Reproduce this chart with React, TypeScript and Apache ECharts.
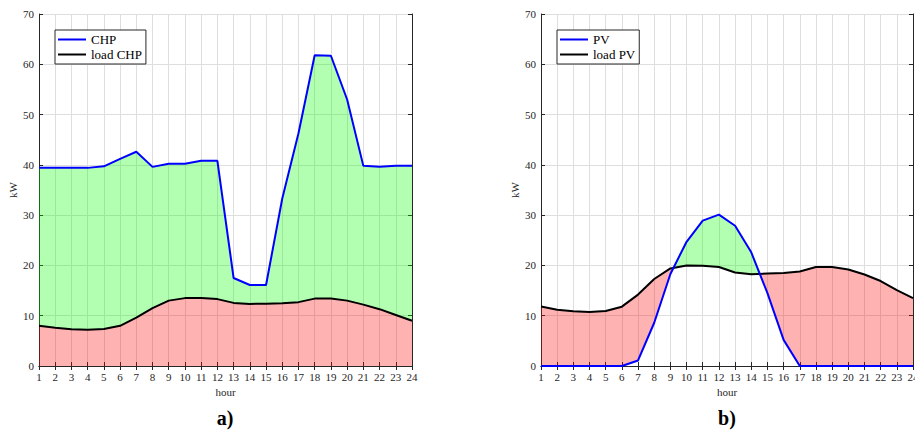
import React, { useEffect, useRef } from "react";
import * as echarts from "echarts";

// ---- data ----
const hours = [1, 2, 3, 4, 5, 6, 7, 8, 9, 10, 11, 12, 13, 14, 15, 16, 17, 18, 19, 20, 21, 22, 23, 24];
const chp = [39.4, 39.4, 39.4, 39.4, 39.7, 41.2, 42.6, 39.6, 40.2, 40.2, 40.8, 40.8, 17.5, 16.1, 16.1, 33.3, 46.3, 61.8, 61.7, 53.0, 39.8, 39.6, 39.8, 39.8];
const loadChp = [8.0, 7.6, 7.3, 7.2, 7.35, 8.0, 9.6, 11.5, 13.0, 13.5, 13.5, 13.3, 12.55, 12.35, 12.4, 12.5, 12.7, 13.4, 13.4, 13.0, 12.2, 11.3, 10.15, 9.0];
const pv = [0, 0, 0, 0, 0, 0, 1.1, 8.6, 18.3, 24.7, 28.9, 30.1, 27.9, 22.6, 14.5, 5.2, 0, 0, 0, 0, 0, 0, 0, 0];
const loadPv = [11.85, 11.2, 10.9, 10.75, 10.95, 11.8, 14.2, 17.3, 19.4, 20.0, 19.95, 19.7, 18.6, 18.25, 18.4, 18.5, 18.8, 19.7, 19.7, 19.2, 18.2, 16.9, 15.1, 13.5];
const yTicks = { min: 0, max: 70, step: 10 };
const legendA = ["CHP", "load CHP"];
const legendB = ["PV", "load PV"];
const panelTitles = ["a)", "b)"];

const FONT = '"Liberation Serif", "Times New Roman", serif';
const AXIS = "#262626";
const GRIDC = "#dedede";
const GREEN = "rgba(0,255,0,0.3)";
const RED = "rgba(255,0,0,0.3)";

// band rows [x, lower, upper]; crossings of supply/load inserted by interpolation
function buildBands(supply: number[], load: number[]) {
  const red: number[][] = [];
  const green: number[][] = [];
  for (let i = 0; i < hours.length; i++) {
    const m = Math.min(supply[i], load[i]);
    red.push([hours[i], m, load[i]]);
    green.push([hours[i], m, supply[i]]);
    if (i < hours.length - 1) {
      const d0 = supply[i] - load[i];
      const d1 = supply[i + 1] - load[i + 1];
      if (d0 * d1 < 0) {
        const t = d0 / (d0 - d1);
        const x = hours[i] + t * (hours[i + 1] - hours[i]);
        const y = supply[i] + t * (supply[i + 1] - supply[i]);
        red.push([x, y, y]);
        green.push([x, y, y]);
      }
    }
  }
  return { red, green };
}

const pairs = (v: number[]) => hours.map((h, i) => [h, v[i]]);

function makeAxes(gridIndex: number) {
  const common = {
    gridIndex,
    type: "value" as const,
    axisLine: { show: true, lineStyle: { color: AXIS, width: 1 } },
    axisTick: { show: true, inside: true, length: 4, lineStyle: { color: AXIS } },
  };
  const label = { show: true, color: AXIS, fontFamily: FONT, fontSize: 11, margin: 5 };
  const x = [
    {
      ...common,
      min: 1,
      max: 24,
      interval: 1,
      position: "bottom",
      name: "hour",
      nameLocation: "middle",
      nameGap: 20,
      nameTextStyle: { color: AXIS, fontFamily: FONT, fontSize: 11 },
      axisLabel: label,
      splitLine: { show: true, lineStyle: { color: GRIDC, width: 1 } },
    },
    { ...common, min: 1, max: 24, interval: 1, position: "top", axisLabel: { show: false }, splitLine: { show: false } },
  ];
  const y = [
    {
      ...common,
      min: yTicks.min,
      max: yTicks.max,
      interval: yTicks.step,
      position: "left",
      name: "kW",
      nameLocation: "middle",
      nameGap: 21,
      nameTextStyle: { color: AXIS, fontFamily: FONT, fontSize: 11 },
      axisLabel: label,
      splitLine: { show: true, lineStyle: { color: GRIDC, width: 1 } },
    },
    { ...common, min: yTicks.min, max: yTicks.max, interval: yTicks.step, position: "right", axisLabel: { show: false }, splitLine: { show: false } },
  ];
  return { x, y };
}

function makeLegend(names: string[], left: number) {
  return {
    data: names.map((n) => ({ name: n, icon: "rect" })),
    orient: "vertical",
    left,
    top: 30,
    itemWidth: 28,
    itemHeight: 2,
    itemGap: 2,
    padding: [3, 4, 3, 3],
    borderColor: AXIS,
    borderWidth: 1,
    backgroundColor: "#fff",
    selectedMode: false,
    textStyle: { fontFamily: FONT, fontSize: 13, color: "#000" },
  };
}

export default function App() {
  const ref = useRef<HTMLDivElement>(null);
  useEffect(() => {
    if (!ref.current) return;
    const chart = echarts.init(ref.current, undefined, { renderer: "svg" });
    const a = makeAxes(0);
    const b = makeAxes(1);
    const bandsB = buildBands(pv, loadPv);
    const redA = hours.map((h, i) => [h, 0, loadChp[i]]);
    const greenA = hours.map((h, i) => [h, loadChp[i], chp[i]]);

    const band = (name: string, rows: number[][], xi: number, yi: number, color: string) => ({
      name,
      type: "custom",
      coordinateSystem: "cartesian2d",
      xAxisIndex: xi,
      yAxisIndex: yi,
      data: rows,
      encode: { x: 0, y: [1, 2] },
      silent: true,
      z: 1,
      renderItem: (params: any, api: any) => {
        if (params.dataIndex !== 0) return null;
        const upper = rows.map((r) => api.coord([r[0], r[2]]));
        const lower = rows.map((r) => api.coord([r[0], r[1]])).reverse();
        return {
          type: "polygon",
          shape: { points: upper.concat(lower) },
          style: { fill: color, stroke: "none" },
        };
      },
    });
    const lineSeries = (name: string, v: number[], xi: number, yi: number, color: string, z: number) => ({
      name,
      type: "line",
      xAxisIndex: xi,
      yAxisIndex: yi,
      data: pairs(v),
      symbol: "none",
      clip: false,
      color,
      lineStyle: { color, width: 2 },
      z,
    });

    chart.setOption({
      animation: false,
      backgroundColor: "#fff",
      grid: [
        { left: 39, top: 14, width: 373, height: 352, outerBoundsMode: "none", containLabel: false },
        { left: 541, top: 14, width: 372, height: 352, outerBoundsMode: "none", containLabel: false },
      ],
      xAxis: [...a.x, ...b.x],
      yAxis: [...a.y, ...b.y],
      legend: [makeLegend(legendA, 55), makeLegend(legendB, 557)],
      series: [
        band("bandA_red", redA, 0, 0, RED),
        band("bandA_green", greenA, 0, 0, GREEN),
        lineSeries(legendA[1], loadChp, 0, 0, "#000000", 3),
        lineSeries(legendA[0], chp, 0, 0, "#0000ff", 4),
        band("bandB_red", bandsB.red, 2, 2, RED),
        band("bandB_green", bandsB.green, 2, 2, GREEN),
        lineSeries(legendB[1], loadPv, 2, 2, "#000000", 3),
        lineSeries(legendB[0], pv, 2, 2, "#0000ff", 4),
      ],
      graphic: [
        {
          type: "text",
          x: 225,
          y: 418,
          style: { text: panelTitles[0], fontFamily: FONT, fontSize: 20, fontWeight: "bold", fill: "#000", align: "center", verticalAlign: "middle" },
        },
        {
          type: "text",
          x: 727,
          y: 418,
          style: { text: panelTitles[1], fontFamily: FONT, fontSize: 20, fontWeight: "bold", fill: "#000", align: "center", verticalAlign: "middle" },
        },
      ],
    });
    return () => chart.dispose();
  }, []);
  return <div ref={ref} style={{ position: "absolute", left: 0, top: 0, width: 915, height: 432 }} />;
}
